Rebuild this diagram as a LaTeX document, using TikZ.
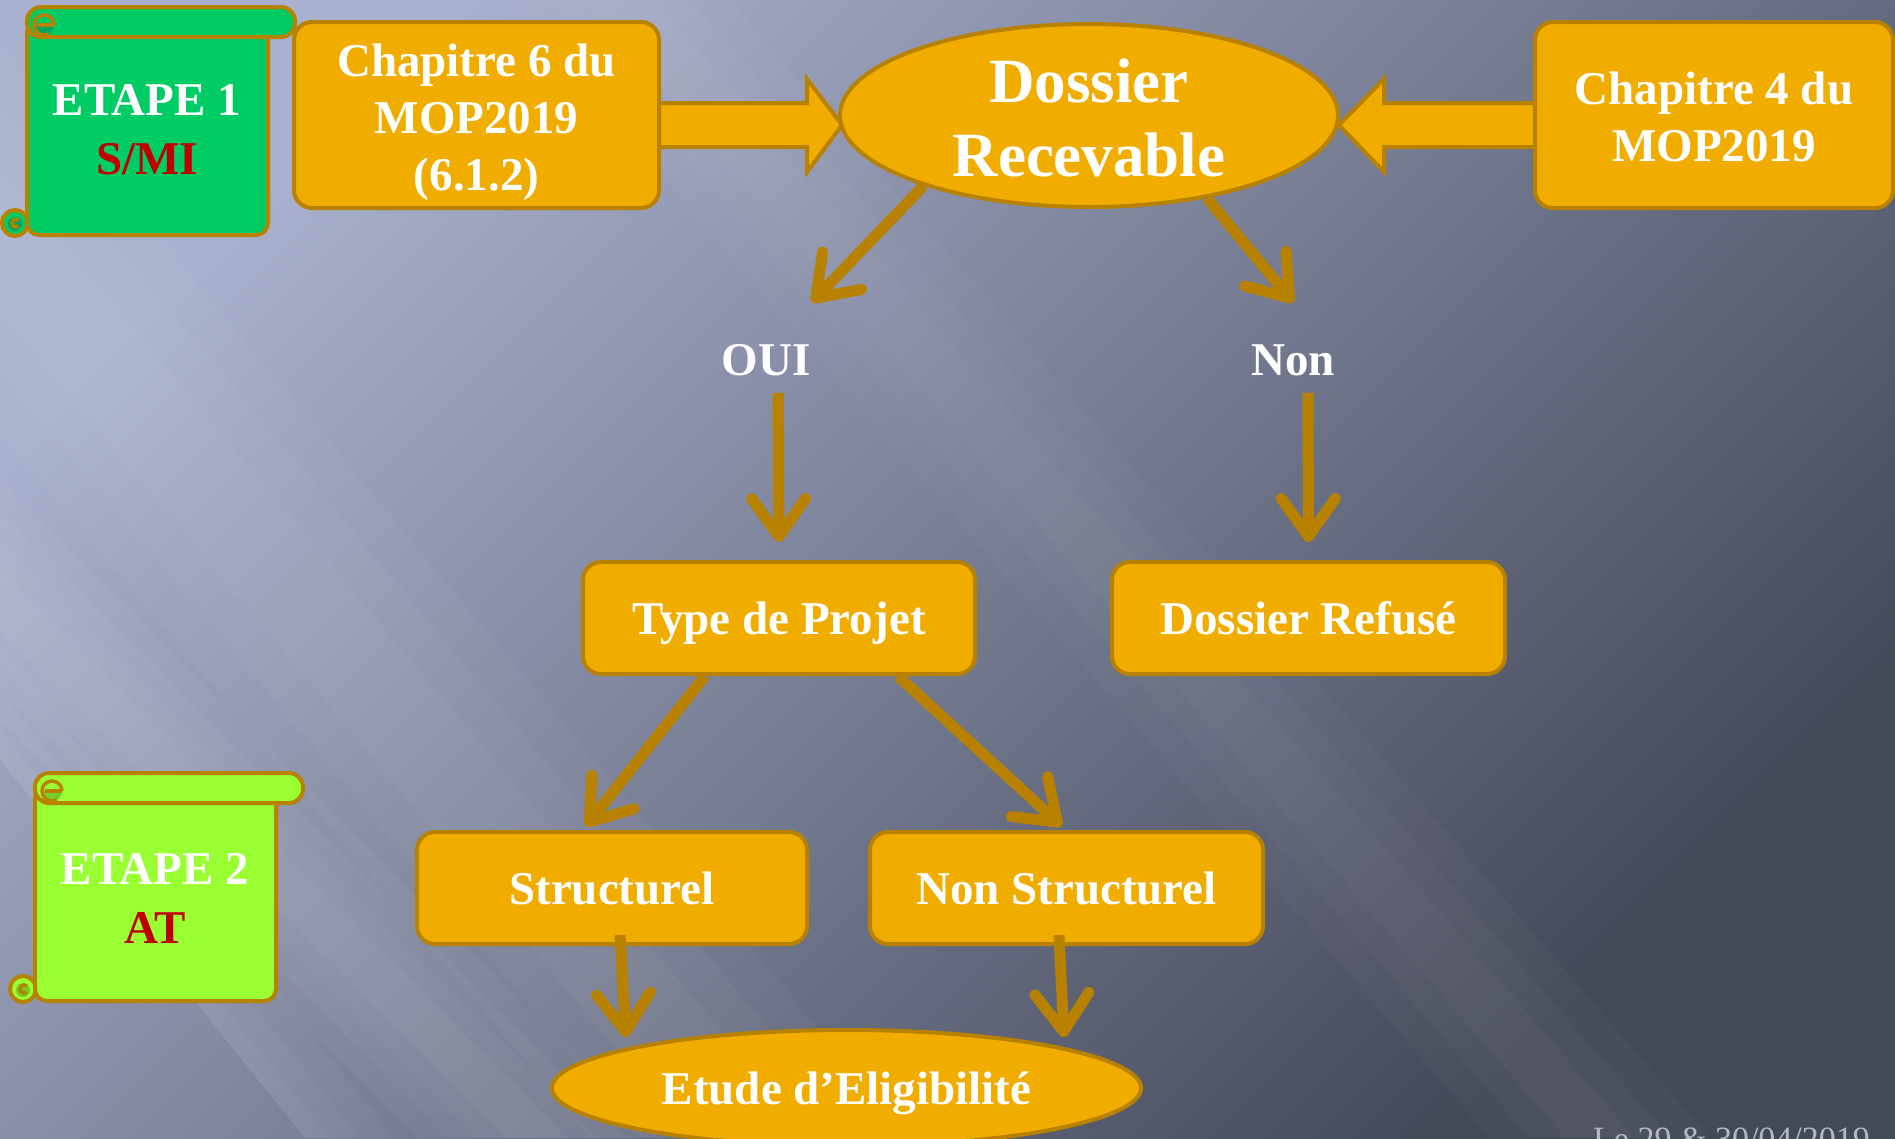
\documentclass[tikz,border=0pt]{standalone}
\usepackage{fontspec}
\setmainfont{Liberation Serif}
\usetikzlibrary{arrows.meta,shapes.geometric}
\definecolor{bgA}{RGB}{170,177,206}
\definecolor{bgM}{RGB}{106,113,136}
\definecolor{bgB}{RGB}{68,73,88}
\definecolor{gold}{RGB}{240,173,0}
\definecolor{goldline}{RGB}{184,130,0}
\definecolor{smgreen}{RGB}{0,204,102}
\definecolor{smgreenD}{RGB}{0,165,95}
\definecolor{lime}{RGB}{153,255,51}
\definecolor{limeD}{RGB}{115,205,45}
\definecolor{redtxt}{RGB}{192,0,0}
\definecolor{datecol}{RGB}{180,184,196}
\newcommand\shiftdown[2]{\raisebox{-#1}[\height][\depth]{\begin{tabular}{@{}c@{}}#2\end{tabular}}}
% scroll shape: #1 light colour, #2 dark colour
\newcommand\myscroll[2]{%
  \draw[scrollline, fill=#1] (15,223) circle (13);
  \draw[scrollline, fill=#1, rounded corners=12pt] (27,20) rectangle (268,235);
  \fill[#2] (15,224) circle (7);
  \draw[curl] (18.8,220.2) arc[start angle=-45, end angle=-315, radius=4];
  \draw[scrollline, fill=#1, rounded corners=14pt] (27,7) rectangle (295,37);
  \fill[#2] (54,25) arc[start angle=0, end angle=180, radius=10] -- cycle;
  \draw[curl] (54,25) arc[start angle=0, end angle=-300, radius=10];
  \draw[curl] (37,25) -- (54,25);
}
\begin{document}
\begin{tikzpicture}[x=1pt,y=-1pt,
  box/.style={draw=goldline, line width=4pt, fill=gold, rounded corners=18pt, text=white,
    font=\bfseries\fontsize{47}{57}\selectfont, align=center, inner sep=0pt},
  ell/.style={ellipse, draw=goldline, line width=4pt, fill=gold, text=white, inner sep=0pt, align=center},
  lbl/.style={text=white, font=\bfseries\fontsize{47}{57}\selectfont, inner sep=0pt},
  flow/.style={draw=goldline, line width=11pt, -{Straight Barb[length=38pt,width=54pt,round]}},
  blk/.style={draw=goldline, line width=4pt, fill=gold, line join=miter},
  scrollline/.style={draw=goldline, line width=4pt},
  curl/.style={draw=goldline, line width=3.5pt},
  steptext/.style={font=\bfseries\fontsize{47}{59}\selectfont, text=white, align=center, inner sep=0pt},
  streak/.style={fill=white, opacity=.035}
]
\useasboundingbox (0,0) rectangle (1895,1138);
\clip (0,0) rectangle (1895,1138);
% background
\shade[top color=bgA, middle color=bgM, bottom color=bgB, shading angle=45] (0,0) rectangle (1895,1138);
% soft light streaks running down-right
\foreach \w in {120,90,60,30}{
  \fill[streak] (-600-\w,0) -- (-600+\w,0) -- (538+\w,1138) -- (538-\w,1138) -- cycle;
}
\foreach \w in {90,55,25}{
  \fill[streak] (-613,0) -- (-613+\w,0) -- (305+\w,1138) -- (305,1138) -- cycle;
}
\foreach \w in {160,110,60}{
  \fill[streak, opacity=.03] (-200-\w,0) -- (-200+\w,0) -- (750+\w,1138) -- (750-\w,1138) -- cycle;
}
\foreach \w in {110,70,35}{
  \fill[streak, opacity=.025] (620-\w,0) -- (620+\w,0) -- (1600+\w,1138) -- (1600-\w,1138) -- cycle;
}

% block arrows
\draw[blk] (659,103) -- (807,103) -- (807,79) -- (842,125) -- (807,172) -- (807,147) -- (659,147) -- cycle;
\draw[blk] (1540,103) -- (1384,103) -- (1384,79) -- (1339,125) -- (1384,172) -- (1384,147) -- (1540,147) -- cycle;

% scrolls
\myscroll{smgreen}{smgreenD}
\begin{scope}[shift={(8,766)}]
\myscroll{lime}{limeD}
\end{scope}

\node[steptext] (s1) at (147,130) {ETAPE 1\\\textcolor{redtxt}{S/MI}};
\node[steptext] (s2) at (155,898) {ETAPE 2\\\textcolor{redtxt}{AT}};

% nodes
\node[box, minimum width=365pt, minimum height=186pt] (ch6) at (476.5,115) {\shiftdown{7pt}{Chapitre 6 du\\MOP2019\\(6.1.2)}};
\node[box, minimum width=358pt, minimum height=186pt] (ch4) at (1714,115) {\shiftdown{7pt}{Chapitre 4 du\\MOP2019}};
\node[ell, minimum width=498pt, minimum height=183pt, inner sep=-20pt, font=\bfseries\fontsize{63}{74}\selectfont] (dr) at (1089,115.5) {\shiftdown{9pt}{Dossier\\Recevable}};
\node[lbl] (oui) at (766,360) {OUI};
\node[lbl] (non) at (1293,360) {Non};
\node[box, minimum width=392pt, minimum height=112pt, text depth=0pt] (type) at (779,618) {Type de Projet};
\node[box, minimum width=393pt, minimum height=112pt, text depth=0pt] (ref) at (1308.5,618) {Dossier Refusé};
\node[box, minimum width=390pt, minimum height=112pt, text depth=0pt] (str) at (612,888) {Structurel};
\node[box, minimum width=393pt, minimum height=112pt, text depth=0pt] (nstr) at (1066.5,888) {Non Structurel};
\node[ell, minimum width=589pt, minimum height=116pt, text depth=0pt, font=\bfseries\fontsize{47}{57}\selectfont] (etude) at (846.5,1088) {Etude d’Eligibilité};

% connectors
\draw[flow] (dr.203) -- ([xshift=46pt,yshift=42pt]oui.north);
\draw[flow] (dr.-35) -- ([yshift=42pt]non.north);
\draw[flow] ([xshift=12pt,yshift=-17pt]oui.south) -- ([yshift=18pt]type.north);
\draw[flow] ([xshift=15pt,yshift=-17pt]non.south) -- ([yshift=18pt]ref.north);
\draw[flow] ([xshift=-74pt]type.south) -- ([xshift=-26pt,yshift=4pt]str.north);
\draw[flow] ([xshift=119pt]type.south) -- ([xshift=-5pt,yshift=4pt]nstr.north);
\draw[flow] ([xshift=8pt,yshift=11pt]str.south) -- ([xshift=-220.5pt,yshift=-9pt]etude.north);
\draw[flow] ([xshift=-7.5pt,yshift=11pt]nstr.south) -- ([xshift=217.5pt,yshift=-9pt]etude.north);

% date
\node[anchor=base west, text=datecol, font=\fontsize{34}{34}\selectfont, inner sep=0pt] (date) at (1593,1150) {Le 29 \& 30/04/2019};
\end{tikzpicture}
\end{document}
